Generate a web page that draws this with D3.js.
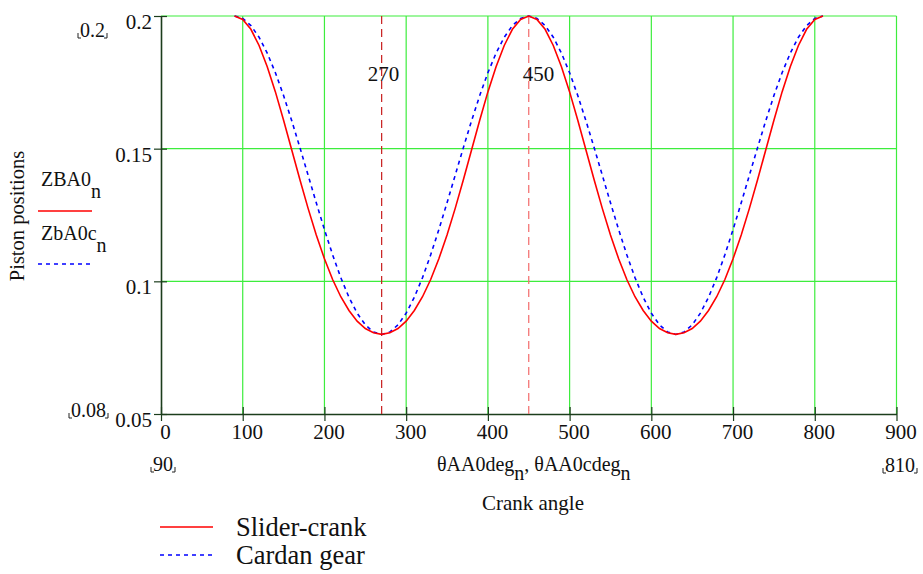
<!DOCTYPE html>
<html><head><meta charset="utf-8">
<script src="https://cdn.jsdelivr.net/npm/d3@7"></script>
<style>body{margin:0;background:#fff}svg{display:block}text{font-family:"Liberation Serif","Times New Roman",serif;fill:#111}</style>
</head><body><svg id="c" width="923" height="574"></svg>
<script>
// crank angle (deg), step 10 from 90 to 810
const angles = d3.range(90, 811, 10);
// Slider-crank piston position ZBA0
const sliderCrank = [0.2000,0.1987,0.1950,0.1889,0.1809,0.1714,0.1607,0.1495,0.1383,0.1275,0.1175,0.1085,0.1007,0.0942,0.0890,0.0850,0.0822,0.0806,0.0800,
0.0806,0.0822,0.0850,0.0890,0.0942,0.1007,0.1085,0.1175,0.1275,0.1383,0.1495,0.1607,0.1714,0.1809,0.1889,0.1950,0.1987,0.2000,
0.1987,0.1950,0.1889,0.1809,0.1714,0.1607,0.1495,0.1383,0.1275,0.1175,0.1085,0.1007,0.0942,0.0890,0.0850,0.0822,0.0806,0.0800,
0.0806,0.0822,0.0850,0.0890,0.0942,0.1007,0.1085,0.1175,0.1275,0.1383,0.1495,0.1607,0.1714,0.1809,0.1889,0.1950,0.1987,0.2000];
// Cardan gear piston position ZbA0c
const cardanGear = [0.2000,0.1991,0.1964,0.1920,0.1860,0.1786,0.1700,0.1605,0.1504,0.1400,0.1296,0.1195,0.1100,0.1014,0.0940,0.0880,0.0836,0.0809,0.0800,
0.0809,0.0836,0.0880,0.0940,0.1014,0.1100,0.1195,0.1296,0.1400,0.1504,0.1605,0.1700,0.1786,0.1860,0.1920,0.1964,0.1991,0.2000,
0.1991,0.1964,0.1920,0.1860,0.1786,0.1700,0.1605,0.1504,0.1400,0.1296,0.1195,0.1100,0.1014,0.0940,0.0880,0.0836,0.0809,0.0800,
0.0809,0.0836,0.0880,0.0940,0.1014,0.1100,0.1195,0.1296,0.1400,0.1504,0.1605,0.1700,0.1786,0.1860,0.1920,0.1964,0.1991,0.2000];
const xTicks = [0,100,200,300,400,500,600,700,800,900];
const yTicks = [0.05,0.1,0.15,0.2];
const yTickLabels = ["0.05","0.1","0.15","0.2"];
const markers = [270, 450];
const seriesNames = ["Slider-crank","Cardan gear"];

const svg = d3.select("#c");
const x = d3.scaleLinear().domain([0,900]).range([161,896.5]);
const y = d3.scaleLinear().domain([0.05,0.2]).range([414,16]);
const green = "#3ded3d", axisCol = "#1c3d1c";

// grid
svg.append("g").selectAll("line").data(xTicks.slice(1)).join("line")
  .attr("x1",d=>x(d)).attr("x2",d=>x(d)).attr("y1",y(0.2)).attr("y2",y(0.05))
  .attr("stroke",green).attr("stroke-width",1.2);
svg.append("g").selectAll("line").data(yTicks.slice(1)).join("line")
  .attr("x1",x(0)).attr("x2",x(900)).attr("y1",d=>y(d)).attr("y2",d=>y(d))
  .attr("stroke",green).attr("stroke-width",1.2);

// axes
const xAxis = svg.append("g").attr("transform",`translate(0,${y(0.05)})`)
  .call(d3.axisBottom(x).tickValues(xTicks).tickSize(7).tickSizeOuter(0).tickPadding(3));
xAxis.select(".domain").attr("stroke",axisCol).attr("stroke-width",1.6);
xAxis.selectAll(".tick line").attr("stroke",axisCol).attr("y1",-7).attr("stroke-width",1.2);
xAxis.selectAll(".tick text").attr("font-size",21).attr("font-family","Liberation Serif").attr("fill","#111").attr("dx",4);
const yAxis = svg.append("g").attr("transform",`translate(${x(0)},0)`)
  .call(d3.axisLeft(y).tickValues(yTicks).tickFormat((d,i)=>yTickLabels[i]).tickSize(7).tickSizeOuter(0).tickPadding(2));
yAxis.select(".domain").attr("stroke",axisCol).attr("stroke-width",1.6);
yAxis.selectAll(".tick line").attr("stroke",axisCol).attr("x1",6).attr("stroke-width",1.2);
yAxis.selectAll(".tick text").attr("font-size",21).attr("font-family","Liberation Serif").attr("fill","#111").attr("dy","0.6em");

// marker lines
const markerCols = ["#c81e1e","#f26a6a"];
markers.forEach((m,i)=>{
  svg.append("line").attr("x1",x(m)).attr("x2",x(m)).attr("y1",y(0.2)).attr("y2",y(0.05))
    .attr("stroke",markerCols[i]).attr("stroke-width",1.2).attr("stroke-dasharray","8,5");
});
svg.append("text").attr("x",x(markers[0])-14).attr("y",81).attr("font-size",21).text(String(markers[0]));
svg.append("text").attr("x",x(markers[1])-6).attr("y",81).attr("font-size",21).text(String(markers[1]));

// curves
const line = d3.line().x((d,i)=>x(angles[i])).y(d=>y(d));
svg.append("path").datum(cardanGear).attr("d",line).attr("fill","none")
  .attr("stroke","#0000ff").attr("stroke-width",1.6).attr("stroke-dasharray","4,4");
svg.append("path").datum(sliderCrank).attr("d",line).attr("fill","none")
  .attr("stroke","#ff0000").attr("stroke-width",1.6);

// placeholder labels with corner marks
function cornerLabel(tx,ty,str,anchor){
  const t = svg.append("text").attr("x",tx).attr("y",ty).attr("font-size",20)
    .attr("text-anchor",anchor||"start").text(str);
  const b = t.node().getBBox();
  const l = b.x-2, r = b.x+b.width+2, yb = ty+1;
  svg.append("path").attr("d",`M${l},${yb-5}V${yb}H${l+3}M${r},${yb-5}V${yb}H${r-3}`)
    .attr("fill","none").attr("stroke","#222").attr("stroke-width",1);
}
cornerLabel(80,37,"0.2");
cornerLabel(71,417,"0.08");
cornerLabel(163,471,"90","middle");
cornerLabel(900,472,"810","middle");

// x axis variable names
const xl = svg.append("text").attr("x",437).attr("y",471).attr("font-size",20);
xl.append("tspan").text("θAA0deg");
xl.append("tspan").attr("dy",9).text("n");
xl.append("tspan").attr("dy",-9).text(", θAA0cdeg");
xl.append("tspan").attr("dy",9).text("n");
svg.append("text").attr("x",533).attr("y",510).attr("font-size",21).attr("text-anchor","middle").text("Crank angle");

// y axis title
svg.append("text").attr("transform","translate(24,216) rotate(-90)").attr("text-anchor","middle")
  .attr("font-size",20.5).text("Piston positions");

// left legend
const l1 = svg.append("text").attr("x",41).attr("y",186).attr("font-size",20);
l1.append("tspan").text("ZBA0"); l1.append("tspan").attr("dy",12).text("n");
svg.append("line").attr("x1",38).attr("x2",92).attr("y1",211).attr("y2",211).attr("stroke","#ff0000").attr("stroke-width",1.5);
const l2 = svg.append("text").attr("x",41).attr("y",240).attr("font-size",20);
l2.append("tspan").text("ZbA0c"); l2.append("tspan").attr("dy",12).text("n");
svg.append("line").attr("x1",38).attr("x2",92).attr("y1",264).attr("y2",264).attr("stroke","#0000ff").attr("stroke-width",1.5).attr("stroke-dasharray","4,4");

// bottom legend
const legCols = ["#ff0000","#0000ff"], legDash = [null,"4,4"];
seriesNames.forEach((n,i)=>{
  const yy = 527 + i*28;
  svg.append("line").attr("x1",160).attr("x2",213).attr("y1",yy).attr("y2",yy)
    .attr("stroke",legCols[i]).attr("stroke-width",1.5).attr("stroke-dasharray",legDash[i]);
  svg.append("text").attr("x",236).attr("y",yy+9).attr("font-size",26.5).text(n);
});
</script></body></html>
